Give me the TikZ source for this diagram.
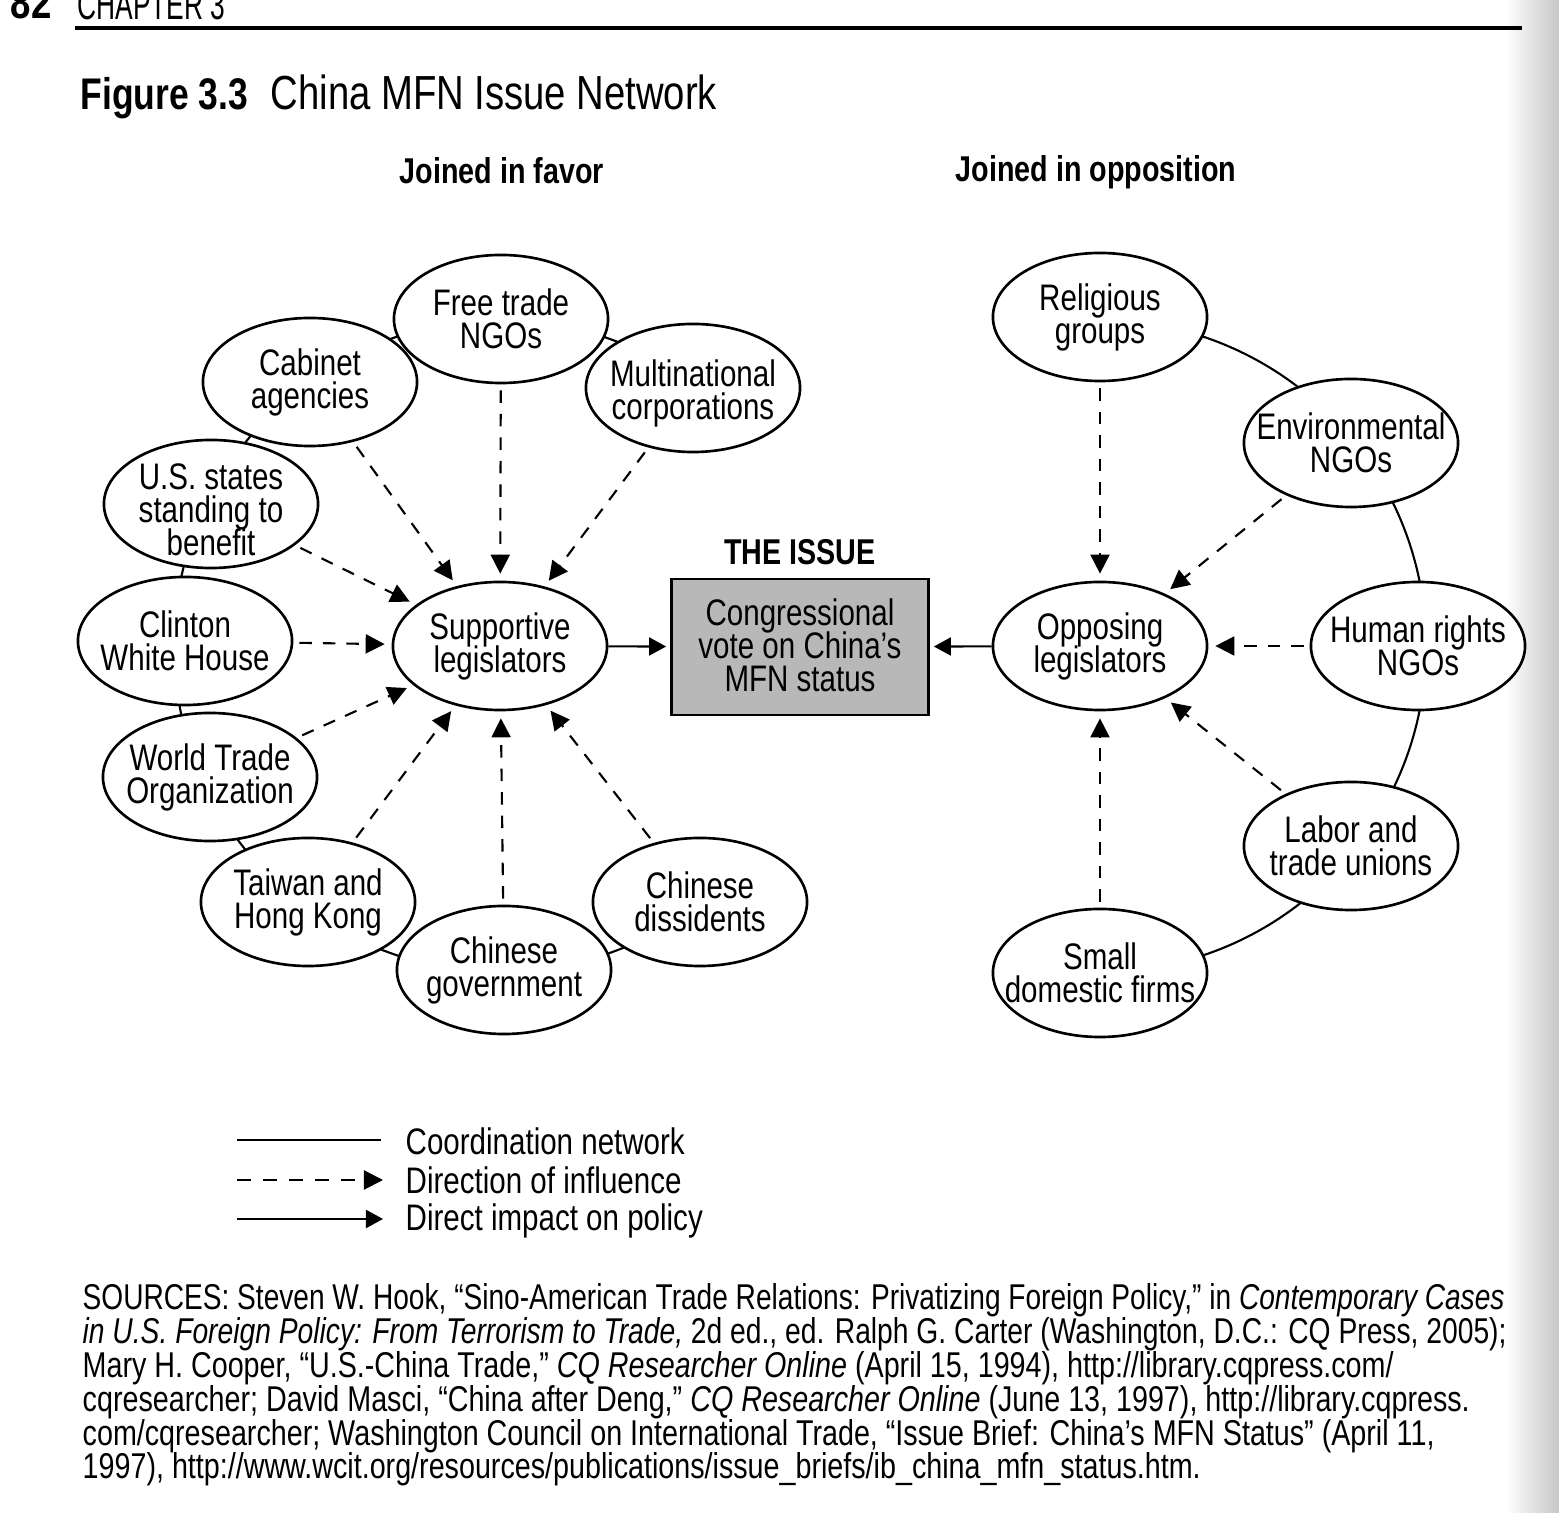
\documentclass[tikz,border=0pt]{standalone}
\usepackage{fontspec}
\setmainfont[FakeStretch=0.8]{Liberation Sans}
\usetikzlibrary{shapes.geometric,arrows.meta,backgrounds}
\newcommand\ovalfont{\fontsize{10.5}{9.4}\selectfont\lineskiplimit=-20pt\relax\lineskip=0pt\relax}
\begin{document}
\begin{tikzpicture}[x=0.01cm,y=-0.01cm,
  oval/.style={ellipse, draw, line width=0.75pt, fill=white, minimum width=2.14cm, minimum height=1.28cm, inner sep=0pt},
  otext/.style={align=center, font=\ovalfont, inner sep=0pt},
  infl/.style={line width=0.6pt, dash pattern=on 0.125cm off 0.11cm, -{Triangle[length=0.19cm,width=0.19cm]}, shorten <=0.06cm, shorten >=0.07cm},
  impact/.style={line width=0.6pt, -{Triangle[length=0.17cm,width=0.18cm]}, shorten >=0.04cm},
  coord/.style={line width=0.6pt},
  head/.style={font=\bfseries\fontsize{10.2}{12}\selectfont, inner sep=0pt},
  src/.style={anchor=base west, inner sep=0pt, font=\fontsize{10.2}{11}\selectfont}]
\useasboundingbox (0,0) rectangle (1559,1513);
\begin{scope}[on background layer]
  \shade[left color=white, right color=black!22] (1505,0) rectangle (1559,1513);
\end{scope}
% header
\node[anchor=base west, inner sep=0pt, font=\bfseries\fontsize{13}{14}\selectfont] (pg) at (10,19) {82};
\node[anchor=base west, inner sep=0pt, font=\fontsize{12}{14}\selectfont] (chap) at (77,20) {\scalebox{0.78}[1]{CHAPTER 3}};
\coordinate (rl) at (75,28);
\coordinate (rr) at (1522,28);
\draw[line width=1pt] (rl) -- (rr);
\node[anchor=base west, inner sep=0pt, font=\bfseries\fontsize{12.6}{16}\selectfont] (fig) at (80,110) {Figure 3.3};
\node[anchor=base west, inner sep=0pt, font=\fontsize{13.6}{16}\selectfont] (title) at (270,110) {China MFN Issue Network};
\node[head] (fav) at (502,171) {Joined in favor};
\node[head] (opp) at (1096,172) {Joined in opposition};
\node[head] (iss) at (800,552) {THE ISSUE};
% left nodes
\node[oval] (sup) at (500,646) {};
\node[oval] (ft) at (501,319) {};
\node[oval] (cab) at (310,382) {};
\node[oval] (mn) at (693,388) {};
\node[oval] (us) at (211,504) {};
\node[oval] (cl) at (185,641) {};
\node[oval] (wto) at (210,777) {};
\node[oval] (tw) at (308,902) {};
\node[oval] (cg) at (504,970) {};
\node[oval] (cd) at (700,902) {};
\node[otext] at (sup) {Supportive\\legislators};
\node[otext] at (ft) {Free trade\\NGOs};
\node[otext] at (cab) {Cabinet\\agencies};
\node[otext] at ([yshift=-0.05cm]mn) {Multinational\\corporations};
\node[otext] at ([yshift=-0.06cm]us) {U.S. states\\standing to\\benefit};
\node[otext] at (cl) {Clinton\\White House};
\node[otext] at (wto) {World Trade\\Organization};
\node[otext] at (tw) {Taiwan and\\Hong Kong};
\node[otext] at (cg) {Chinese\\government};
\node[otext] at (cd) {Chinese\\dissidents};
% issue
\node[draw, line width=0.75pt, fill=black!28, minimum width=2.57cm, minimum height=1.36cm, inner sep=0pt] (box) at (800,647) {};
\node[otext] at ([yshift=0.02cm]box) {Congressional\\vote on China's\\MFN status};
% right nodes
\node[oval] (op) at (1100,646) {};
\node[oval] (rel) at (1100,317) {};
\node[oval] (env) at (1351,443) {};
\node[oval] (hr) at (1418,646) {};
\node[oval] (lab) at (1351,846) {};
\node[oval] (sm) at (1100,973) {};
\node[otext] at (op) {Opposing\\legislators};
\node[otext] at (rel) {Religious\\groups};
\node[otext] at (env) {Environmental\\NGOs};
\node[otext] at (hr) {Human rights\\NGOs};
\node[otext] at (lab) {Labor and\\trade unions};
\node[otext] at (sm) {Small\\domestic firms};
% coordination network (arcs round each group of legislators, behind the ovals)
\begin{scope}[on background layer]
\draw[coord] (sup) ++(-53:326) arc[start angle=-53, end angle=-308, radius=326];
\draw[coord] (op) ++(-90:326) arc[start angle=-90, end angle=90, radius=326];
\end{scope}
% influence
\foreach \n in {ft,cab,mn,us,cl,wto,tw,cg,cd} \draw[infl] (\n) -- (sup);
\foreach \n in {rel,env,hr,lab,sm} \draw[infl] (\n) -- (op);
\draw[impact] (sup) -- (box);
\draw[impact] (op) -- (box);
% legend
\coordinate (l1a) at (237,1140); \coordinate (l1b) at (381,1140);
\coordinate (l2a) at (237,1180); \coordinate (l2b) at (383,1180);
\coordinate (l3a) at (237,1219); \coordinate (l3b) at (383,1219);
\draw[coord] (l1a) -- (l1b);
\draw[line width=0.6pt, dash pattern=on 0.14cm off 0.12cm, -{Triangle[length=0.19cm,width=0.19cm]}] (l2a) -- (l2b);
\draw[impact, shorten >=0pt] (l3a) -- (l3b);
\node[anchor=west, otext] (t1) at (405,1141) {Coordination network};
\node[anchor=west, otext] (t2) at (405,1180) {Direction of influence};
\node[anchor=west, otext] (t3) at (405,1221) {Direct impact on policy};
% sources
\node[src] (s1) at (82,1310) {\scalebox{0.979}[1]{SOURCES: Steven W. Hook, “Sino-American Trade Relations: Privatizing Foreign Policy,” in \textit{Contemporary Cases}}};
\node[src] (s2) at (82,1344) {\scalebox{0.984}[1]{\textit{in U.S. Foreign Policy: From Terrorism to Trade,} 2d ed., ed. Ralph G. Carter (Washington, D.C.: CQ Press, 2005);}};
\node[src] (s3) at (82,1378) {Mary H. Cooper, “U.S.-China Trade,” \textit{CQ Researcher Online} (April 15, 1994), http://library.cqpress.com/};
\node[src] (s4) at (82,1412) {cqresearcher; David Masci, “China after Deng,” \textit{CQ Researcher Online} (June 13, 1997), http://library.cqpress.};
\node[src] (s5) at (82,1446) {com/cqresearcher; Washington Council on International Trade, “Issue Brief: China’s MFN Status” (April 11,};
\node[src] (s6) at (82,1479) {1997), http://www.wcit.org/resources/publications/issue\_briefs/ib\_china\_mfn\_status.htm.};
\end{tikzpicture}
\end{document}
